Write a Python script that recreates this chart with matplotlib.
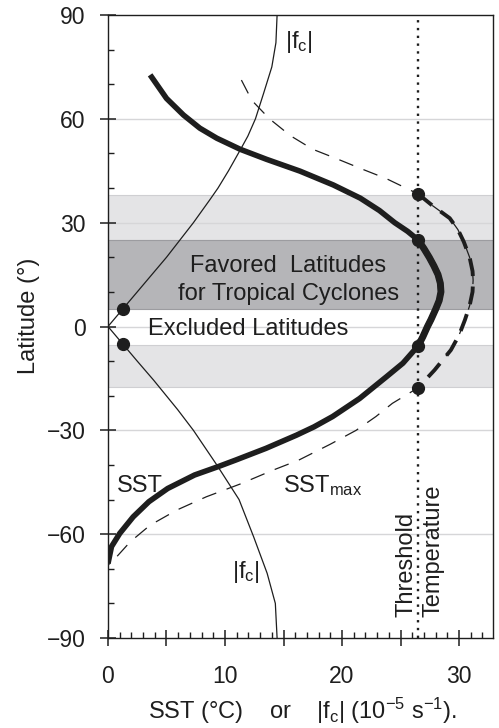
import numpy as np
import matplotlib
matplotlib.use("Agg")
import matplotlib.pyplot as plt
from matplotlib.ticker import MultipleLocator, FuncFormatter

plt.rcParams['font.family'] = ['Liberation Sans', 'DejaVu Sans']
plt.rcParams['mathtext.default'] = 'regular'

# observed SST (thick line), read north -> south
sst_lat = [72.7, 65.9, 61.1, 57.3, 54.4, 51.2, 48.3, 44.9, 40.9, 37.1, 33.5,
           30.0, 27.5, 25.0, 22.5, 20.0, 17.5, 15.0, 12.5, 10.0, 7.5, 5.0,
           2.0, 0.0, -3.0, -5.6, -10.6, -14.5, -20.8, -26.0, -29.0, -31.4,
           -35.2, -38.6, -40.5, -42.9, -46.8, -50.6, -55.0, -59.8, -63.6, -68.5]
sst_val = [3.6, 5.0, 6.45, 7.85, 9.3, 11.3, 13.55, 16.4, 19.25, 21.55, 23.2,
           24.5, 25.6, 26.5, 27.0, 27.45, 27.85, 28.2, 28.4, 28.45, 28.3, 28.0,
           27.6, 27.3, 26.9, 26.5, 25.2, 23.8, 21.5, 19.2, 17.6, 16.1,
           13.5, 10.9, 9.4, 7.4, 5.1, 3.5, 2.15, 1.0, 0.3, 0.0]

# maximum SST (dashed line)
sstmax_lat = [71.2, 65.3, 60.0, 55.1, 51.2, 48.4, 45.5, 42.7, 38.3, 35.0,
              31.3, 28.0, 24.5, 20.0, 16.0, 13.4, 10.0, 6.0, 1.9, -2.5,
              -6.8, -12.6, -17.7, -22.2, -26.0, -30.0, -34.0, -38.6, -41.5,
              -45.5, -49.2, -53.0, -57.4, -62.2, -66.5, -69.0]
sstmax_val = [11.4, 12.3, 13.8, 15.6, 17.5, 19.6, 21.7, 23.8, 26.5, 27.7,
              29.2, 29.9, 30.4, 30.9, 31.15, 31.2, 31.15, 30.9, 30.5, 30.0,
              29.3, 27.9, 26.5, 24.3, 22.9, 21.2, 19.0, 16.3, 14.1,
              11.3, 8.4, 5.9, 3.6, 1.9, 0.75, 0.0]

# |f_c| (Coriolis parameter), both hemispheres
fc_lat = [90, 82, 75, 67.4, 60, 55, 51, 45, 40, 36.6, 30, 25, 20, 15, 10, 5, 0,
          -5, -10, -15.5, -24, -30, -40, -50, -60.8, -71.3, -80, -90]
fc_val = [14.45, 14.35, 14.0, 13.3, 12.6, 11.95, 11.3, 10.3, 9.4, 8.7, 7.3, 6.15,
          5.0, 3.75, 2.5, 1.25, 0.0,
          1.25, 2.5, 3.9, 5.95, 7.3, 9.3, 11.2, 12.45, 13.6, 14.3, 14.45]

threshold = 26.5
thr_lat_sst = [25.0, -5.6]
thr_lat_max = [38.3, -17.7]
fc_pts_lat = [5, -5]
fc_pts_val = [1.25, 1.25]

bands_light = [(25, 38), (-17.5, -5.3)]
band_dark = (5, 25)

ink = '#1e1e1e'
fig = plt.figure(figsize=(4.99, 7.28), dpi=100)
ax = fig.add_axes([0.2164, 0.1236, 0.7716, 0.8558])

for lo, hi in bands_light:
    ax.axhspan(lo, hi, facecolor='#e4e4e6', edgecolor='#cfcfd2', lw=0.8, zorder=0)
ax.axhspan(*band_dark, facecolor='#b5b5b8', edgecolor='#9c9ca0', lw=0.8, zorder=0)
for g in [-60, -30, 0, 30, 60]:
    ax.axhline(g, color='#d6d6d8', lw=1.0, zorder=0.5)

ax.axvline(threshold, color=ink, lw=1.7, dashes=(1, 2.3), zorder=2)

ax.plot(fc_val, fc_lat, color=ink, lw=0.9, zorder=3)

sl = np.array(sst_lat)
sv = np.array(sst_val)
ax.plot(sv, sl, color=ink, lw=4.0, solid_capstyle='butt', solid_joinstyle='round', zorder=4)
m = (sl <= thr_lat_sst[0]) & (sl >= thr_lat_sst[1])
ax.plot(sv[m], sl[m], color=ink, lw=5.0, solid_capstyle='butt', solid_joinstyle='round', zorder=4)

ml = np.array(sstmax_lat)
mv = np.array(sstmax_val)
ax.plot(mv, ml, color=ink, lw=0.9, dashes=(12, 8.8), zorder=4)
m2 = (ml <= thr_lat_max[0]) & (ml >= thr_lat_max[1])
ax.plot(mv[m2], ml[m2], color=ink, lw=2.8, dashes=(4.6, 2.7), zorder=4)

ax.plot([threshold] * 2, thr_lat_sst, 'o', color=ink, ms=8.5, zorder=5)
ax.plot([threshold] * 2, thr_lat_max, 'o', color=ink, ms=8.5, zorder=5)
ax.plot(fc_pts_val, fc_pts_lat, 'o', color=ink, ms=8.5, zorder=5)

tk = dict(color=ink, fontsize=17)
ax.text(15.4, 15.8, 'Favored  Latitudes', ha='center', va='baseline', **tk)
ax.text(15.4, 7.66, 'for Tropical Cyclones', ha='center', va='baseline', **tk)
ax.text(3.45, -2.5, 'Excluded Latitudes', ha='left', va='baseline', **tk)
ax.text(15.1, 80.4, '|f$_c$|', ha='left', va='baseline', **tk)
ax.text(10.6, -72.7, '|f$_c$|', ha='left', va='baseline', **tk)
ax.text(0.8, -47.7, 'SST', ha='left', va='baseline', **tk)
ax.text(14.98, -47.7, 'SST$_{max}$', ha='left', va='baseline', **tk)
ax.text(25.5, -83.8, 'Threshold', rotation=90, ha='center', va='bottom', **tk)
ax.text(27.85, -83.8, 'Temperature', rotation=90, ha='center', va='bottom', **tk)

ax.set_xlim(0, 32.9)
ax.set_ylim(-90, 90)
ax.yaxis.set_major_locator(MultipleLocator(30))
ax.yaxis.set_minor_locator(MultipleLocator(10))
ax.xaxis.set_major_locator(MultipleLocator(5))
ax.xaxis.set_minor_locator(MultipleLocator(1))
ax.xaxis.set_major_formatter(FuncFormatter(lambda v, p: f'{v:.0f}' if v % 10 == 0 else ''))
ax.tick_params(axis='both', which='major', direction='inout', length=12, width=1.1,
               colors=ink, labelsize=16.5)
ax.tick_params(axis='y', which='major', pad=10)
ax.tick_params(axis='x', which='major', pad=14, length=11)
ax.tick_params(axis='both', which='minor', direction='in', length=4.5, width=1.0, colors=ink)
ax.tick_params(right=False, top=False, which='both')
for s in ax.spines.values():
    s.set_color(ink)
    s.set_linewidth(1.0)

ax.set_ylabel('Latitude (°)', fontsize=17, color=ink)
ax.yaxis.set_label_coords(-0.177, 0.517)
ax.set_xlabel('SST (°C)    or    |f$_c$| (10$^{-5}$ s$^{-1}$).', fontsize=17, color=ink)
ax.xaxis.set_label_coords(0.505, -0.093)

fig.savefig('out.png', dpi=100)
